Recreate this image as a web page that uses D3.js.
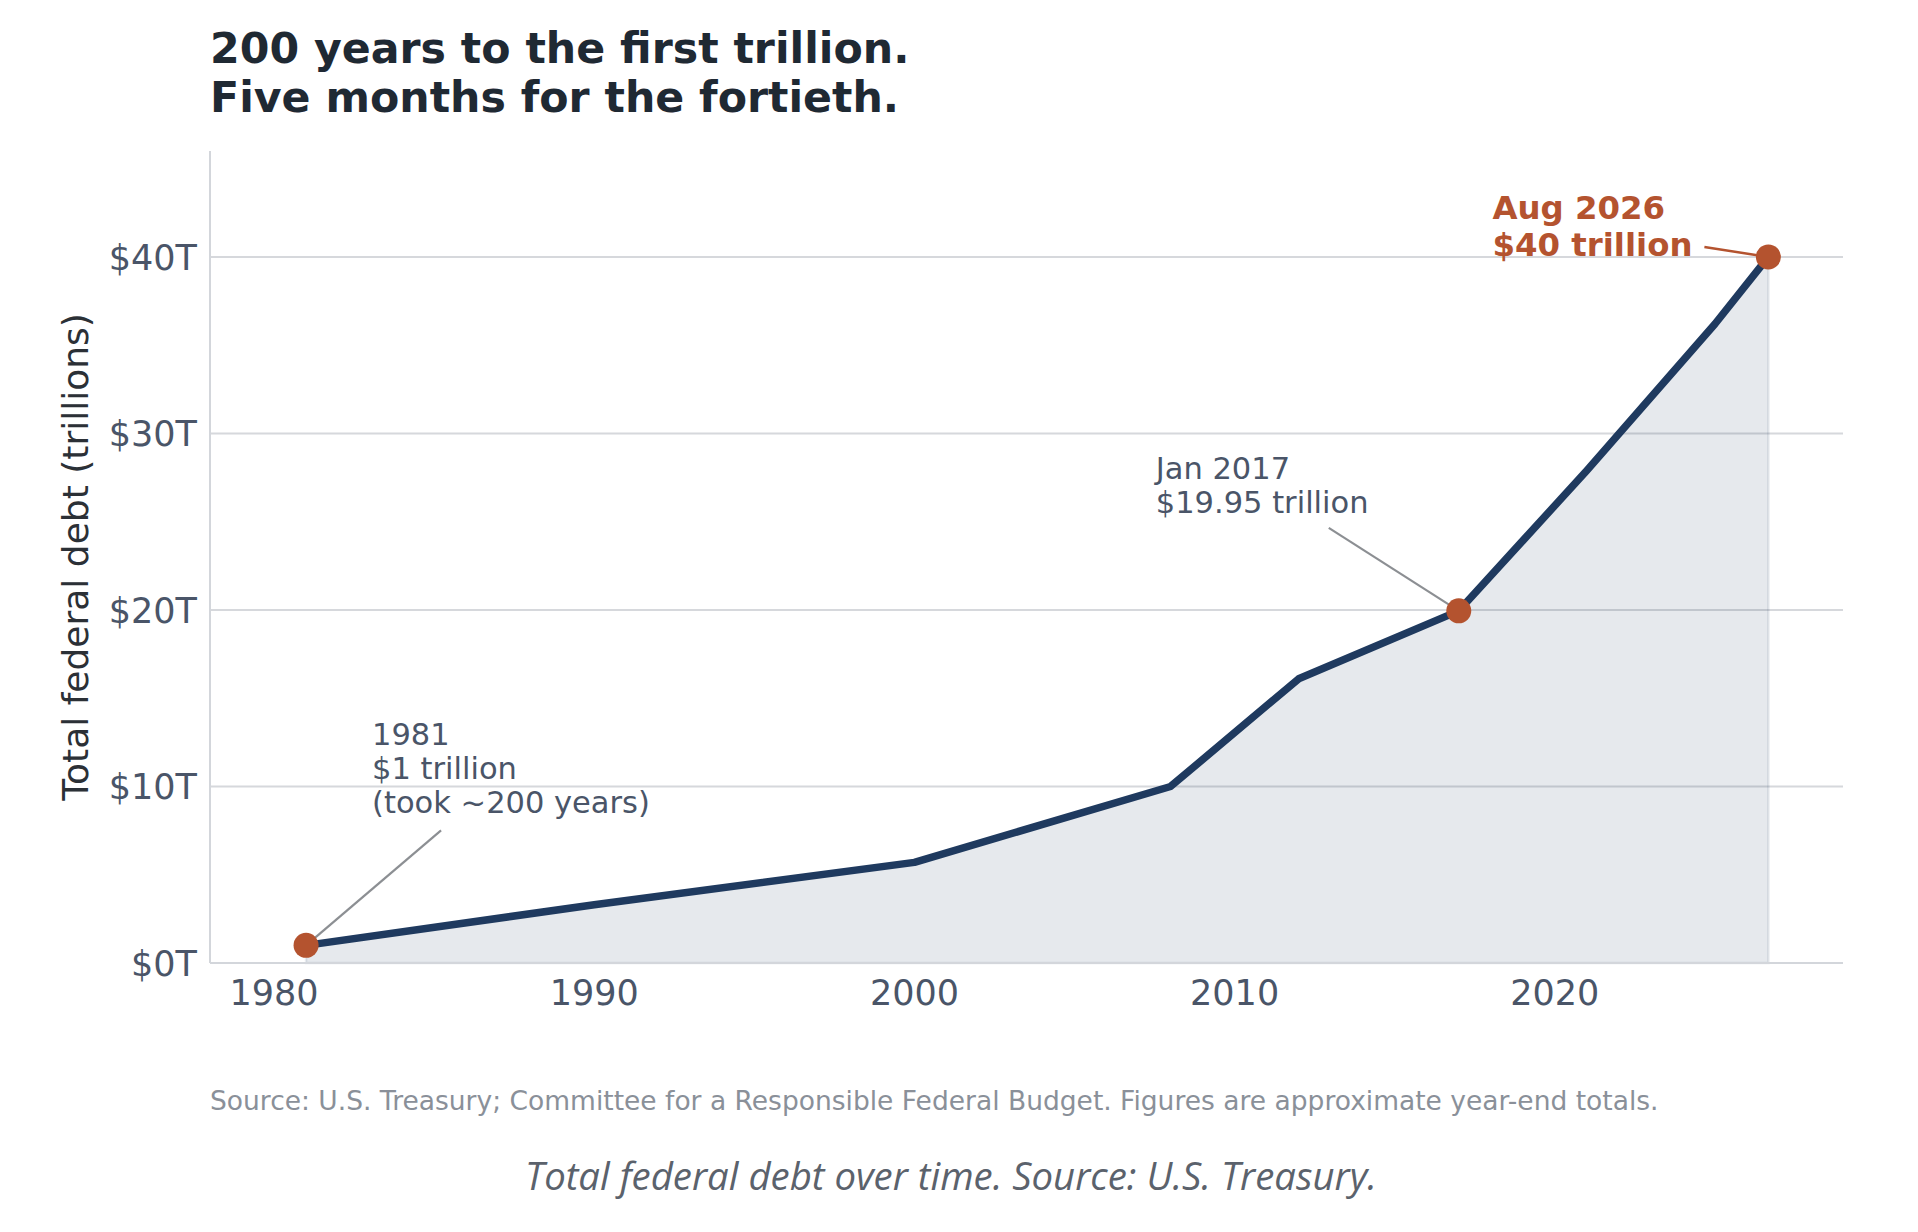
<!DOCTYPE html>
<html>
<head>
<meta charset="utf-8">
<script src="https://cdn.jsdelivr.net/npm/d3@7/dist/d3.min.js"></script>
<style>
  html, body { margin: 0; padding: 0; background: #ffffff; }
  svg { display: block; }
</style>
</head>
<body>
<svg id="chart" width="1918" height="1232"></svg>
<script>
// ---- data ----
const years = [1981, 1990, 2000, 2008, 2012, 2017, 2021, 2025, 2026.67];
const debt  = [1.0, 3.3, 5.7, 10.0, 16.1, 19.95, 27.9, 36.2, 40.0];
const yTicks = [0, 10, 20, 30, 40];
const yTickLabels = ["$0T", "$10T", "$20T", "$30T", "$40T"];
const xTicks = [1980, 1990, 2000, 2010, 2020];
const xTickLabels = ["1980", "1990", "2000", "2010", "2020"];
const markYears = [1981, 2017, 2026.67];
const markValues = [1.0, 19.95, 40.0];
const markTexts = [
  ["1981", "$1 trillion", "(took ~200 years)"],
  ["Jan 2017", "$19.95 trillion"],
  ["Aug 2026", "$40 trillion"]
];
const titleLines = ["200 years to the first trillion.", "Five months for the fortieth."];
const yLabel = "Total federal debt (trillions)";
const sourceNote = "Source: U.S. Treasury; Committee for a Responsible Federal Budget. Figures are approximate year-end totals.";
const caption = "Total federal debt over time. Source: U.S. Treasury.";

// ---- layout ----
const FONT = "'DejaVu Sans', Verdana, sans-serif";
const svg = d3.select("#chart");
const x = d3.scaleLinear().domain([1978, 2029]).range([210, 1843]);
const y = d3.scaleLinear().domain([0, 46]).range([963, 151]);
const pts = years.map((yr, i) => ({yr, v: debt[i]}));

// title
svg.append("g").selectAll("text").data(titleLines).join("text")
  .attr("x", 210).attr("y", (d, i) => 63 + i * 49)
  .attr("font-family", FONT).attr("font-weight", "bold").attr("font-size", 42.7)
  .attr("fill", "#1f2933").text(d => d);

// gridlines
svg.append("g").selectAll("line").data(yTicks.filter(d => d > 0)).join("line")
  .attr("x1", x.range()[0]).attr("x2", x.range()[1])
  .attr("y1", d => y(d)).attr("y2", d => y(d))
  .attr("stroke", "#d6d8dc").attr("stroke-width", 2);

// area fill
const area = d3.area().x(d => x(d.yr)).y0(y(0)).y1(d => y(d.v));
svg.append("path").datum(pts).attr("d", area)
  .attr("fill", "#1f3a5f").attr("fill-opacity", 0.11)
  .attr("stroke", "#1f3a5f").attr("stroke-opacity", 0.1).attr("stroke-width", 2.5);

// spines
svg.append("line").attr("x1", x.range()[0]).attr("x2", x.range()[0])
  .attr("y1", y.range()[1]).attr("y2", y(0))
  .attr("stroke", "#d3d6db").attr("stroke-width", 2);
svg.append("line").attr("x1", x.range()[0]).attr("x2", x.range()[1])
  .attr("y1", y(0)).attr("y2", y(0))
  .attr("stroke", "#d3d6db").attr("stroke-width", 2);

// y tick labels
svg.append("g").selectAll("text").data(yTicks).join("text")
  .attr("x", x.range()[0] - 13).attr("y", d => y(d))
  .attr("dy", "0.36em").attr("text-anchor", "end")
  .attr("font-family", FONT).attr("font-size", 35).attr("fill", "#4a5568")
  .text((d, i) => yTickLabels[i]);

// x tick labels
svg.append("g").selectAll("text").data(xTicks).join("text")
  .attr("x", d => x(d)).attr("y", y(0) + 42)
  .attr("text-anchor", "middle")
  .attr("font-family", FONT).attr("font-size", 35).attr("fill", "#4a5568")
  .text((d, i) => xTickLabels[i]);

// y axis title
svg.append("text")
  .attr("transform", `translate(88, ${(y.range()[1] + y(0)) / 2}) rotate(-90)`)
  .attr("text-anchor", "middle")
  .attr("font-family", FONT).attr("font-size", 36).attr("fill", "#2b3036")
  .text(yLabel);

// main line
const line = d3.line().x(d => x(d.yr)).y(d => y(d.v));
svg.append("path").datum(pts).attr("d", line)
  .attr("fill", "none").attr("stroke", "#1f3a5f").attr("stroke-width", 7.5)
  .attr("stroke-linejoin", "round").attr("stroke-linecap", "round");

// annotations (offsets relative to marked point)
const annoCfg = [
  {dx: 66, dy: -200, lx: 135, ly: -115, color: "#4a5568", bold: false, lc: "#8c8f93", lw: 2.2, lh: 34},
  {dx: -303, dy: -132, lx: -130, ly: -83, color: "#4a5568", bold: false, lc: "#8c8f93", lw: 2.2, lh: 34},
  {dx: -276, dy: -38, lx: -64, ly: -10, color: "#b4532f", bold: true, lc: "#b4532f", lw: 2.6, lh: 37}
];
markYears.forEach((yr, i) => {
  const px = x(yr), py = y(markValues[i]);
  const c = annoCfg[i];
  svg.append("line").attr("x1", px + c.lx).attr("y1", py + c.ly)
    .attr("x2", px).attr("y2", py)
    .attr("stroke", c.lc).attr("stroke-width", c.lw);
  const t = svg.append("text")
    .attr("font-family", FONT).attr("font-size", c.bold ? 32.4 : 30.5)
    .attr("font-weight", c.bold ? "bold" : "normal").attr("fill", c.color);
  markTexts[i].forEach((s, j) => {
    t.append("tspan").attr("x", px + c.dx).attr("y", py + c.dy + j * c.lh).text(s);
  });
});

// marker dots
svg.append("g").selectAll("circle").data(markYears).join("circle")
  .attr("cx", d => x(d)).attr("cy", (d, i) => y(markValues[i]))
  .attr("r", 12.5).attr("fill", "#b4532f");

// source note
svg.append("text").attr("x", 210).attr("y", 1110)
  .attr("font-family", FONT).attr("font-size", 26.5).attr("fill", "#8a9099")
  .text(sourceNote);

// caption
svg.append("text").attr("x", 951).attr("y", 1190)
  .attr("text-anchor", "middle")
  .attr("font-family", "'Open Sans', 'Noto Sans', sans-serif").attr("font-style", "italic")
  .attr("font-size", 38).attr("fill", "#5b626c")
  .attr("textLength", 852).attr("lengthAdjust", "spacingAndGlyphs")
  .text(caption);
</script>
</body>
</html>
